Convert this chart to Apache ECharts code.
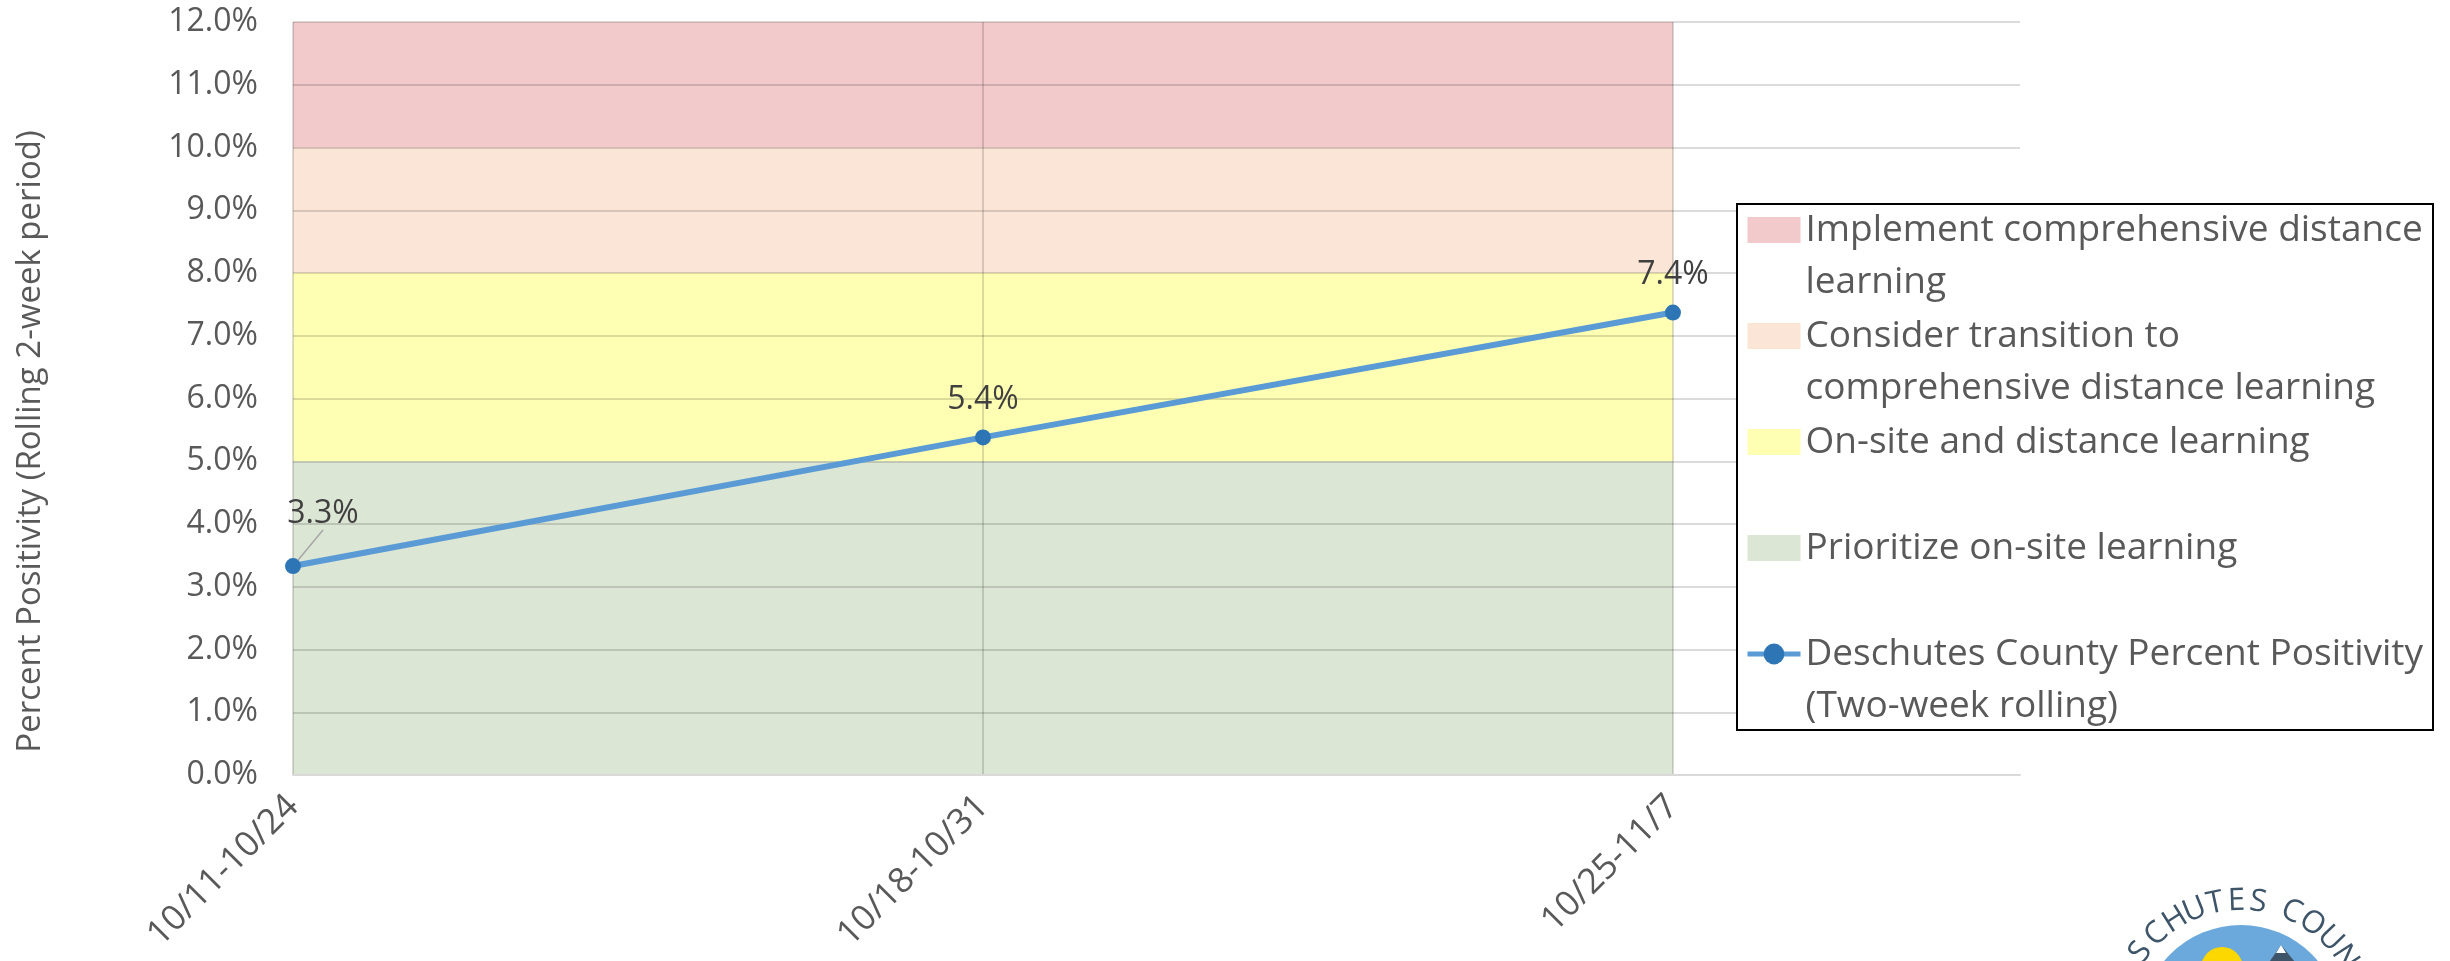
<!DOCTYPE html>
<html>
<head>
<meta charset="utf-8">
<script src="https://cdn.jsdelivr.net/npm/echarts@6/dist/echarts.min.js"></script>
<style>
html, body { margin: 0; padding: 0; background: #fff; }
#main { width: 2450px; height: 961px; }
</style>
</head>
<body>
<div id="main"></div>
<script>
// data
const weeks = ["10/11-10/24", "10/18-10/31", "10/25-11/7"];
const positivity = [3.33, 5.38, 7.37];
const positivityLabels = ["3.3%", "5.4%", "7.4%"];

// school metric zones, upper bound of each zone (percent)
const zoneNames = [
    "Implement comprehensive distance learning",
    "Consider transition to comprehensive distance learning",
    "On-site and distance learning",
    "Prioritize on-site learning"
];
const zoneTops = [12, 10, 8, 5];
const zoneColors = ["#F2CACB", "#FBE5D6", "#FFFFB3", "#DCE6D5"];

const lineName = "Deschutes County Percent Positivity (Two-week rolling)";

// legend text; blank first line keeps the swatch beside the first text line
const legendText = {
    "Implement comprehensive distance learning": " \nImplement comprehensive distance\nlearning",
    "Consider transition to comprehensive distance learning": " \nConsider transition to\ncomprehensive distance learning",
    "On-site and distance learning": " \nOn-site and distance learning\n ",
    "Prioritize on-site learning": " \nPrioritize on-site learning\n ",
    "Deschutes County Percent Positivity (Two-week rolling)": " \nDeschutes County Percent Positivity\n(Two-week rolling)"
};

const FONT = "'Open Sans', sans-serif";
const GREY = "#595959";
const GRID_LINE = "rgba(0,0,0,0.14)";

// each zone is filled from 0 up to its top; lower zones are painted later, on top
const zoneSeries = zoneNames.map(function (name, k) {
    return {
        name: name,
        type: "line",
        color: zoneColors[k],
        symbol: "none",
        silent: true,
        z: 1,
        lineStyle: { width: 0 },
        areaStyle: { color: zoneColors[k], opacity: 1 },
        data: weeks.map(function (w, i) { return [i, zoneTops[k]]; })
    };
});

const lineData = positivity.map(function (v, i) {
    const item = { value: [i, v] };
    if (i === 0) {
        item.labelLine = { show: true, lineStyle: { color: "#a6a6a6", width: 1.5 } };
    }
    return item;
});

const legendData = zoneNames.map(function (name, k) {
    return { name: name, icon: "rect", itemStyle: { color: zoneColors[k], borderWidth: 0 } };
});
legendData.push({
    name: lineName,
    itemStyle: { color: "#2E75B6" },
    lineStyle: { color: "#5B9BD5", width: 5 }
});

// logo in the bottom right corner
const logoText = "DESCHUTES COUNTY";
const logoAngles = [-76, -65, -54, -43, -32, -22, -12, -2, 8, 0, 24, 35, 46, 57, 68, 79];
const logoCx = 2241, logoCy = 1025, logoR = 124;
const logoElements = [
    { type: "circle", shape: { cx: logoCx, cy: logoCy, r: 100 }, style: { fill: "#6BA9DC" }, z: 1 },
    { type: "circle", shape: { cx: 2222, cy: 968, r: 21 }, style: { fill: "#FCD800" }, z: 2 },
    { type: "polygon", shape: { points: [[2250, 990], [2281, 945], [2318, 990]] }, style: { fill: "#3E5468" }, z: 2 },
    { type: "polygon", shape: { points: [[2276, 953], [2281, 945], [2286, 953]] }, style: { fill: "#ffffff" }, z: 3 }
];
for (let i = 0; i < logoText.length; i++) {
    if (logoText[i] === " ") continue;
    const a = logoAngles[i] * Math.PI / 180;
    logoElements.push({
        type: "text",
        x: logoCx + logoR * Math.sin(a),
        y: logoCy - logoR * Math.cos(a),
        rotation: -a,
        z: 2,
        style: {
            text: logoText[i], x: 0, y: 0, align: "center", verticalAlign: "middle",
            fill: "#3E5468", font: "31px " + FONT
        }
    });
}

var myChart = echarts.init(document.getElementById("main"));
var option = {
    animation: false,
    backgroundColor: "#fff",
    grid: { left: 293, right: 430, top: 22, bottom: 186 },
    xAxis: {
        type: "value",
        min: 0,
        max: 2.503,
        interval: 1,
        z: 3,
        axisLine: { show: true, onZero: false, lineStyle: { color: "#d9d9d9", width: 2 } },
        axisTick: { show: false },
        splitLine: { show: true, showMaxLine: false, lineStyle: { color: GRID_LINE, width: 2 } },
        axisLabel: {
            rotate: 45,
            margin: 26,
            fontFamily: FONT,
            fontSize: 35,
            color: GREY,
            showMaxLabel: false,
            formatter: function (v) { return Number.isInteger(v) && weeks[v] ? weeks[v] : ""; }
        }
    },
    yAxis: {
        type: "value",
        min: 0,
        max: 12,
        interval: 1,
        z: 3,
        name: "Percent Positivity (Rolling 2-week period)",
        nameLocation: "middle",
        nameGap: 246,
        nameTextStyle: { fontFamily: FONT, fontSize: 33, color: GREY, padding: [0, 86, 0, 0] },
        axisLine: { show: false },
        axisTick: { show: false },
        splitLine: { show: true, lineStyle: { color: GRID_LINE, width: 2 } },
        axisLabel: {
            margin: 35,
            fontFamily: FONT,
            fontSize: 32,
            color: GREY,
            formatter: function (v) { return v.toFixed(1) + "%"; }
        }
    },
    legend: {
        orient: "vertical",
        left: 1745,
        top: 152,
        padding: 0,
        itemGap: -50,
        itemWidth: 53,
        itemHeight: 26,
        z: 20,
        selectedMode: false,
        textStyle: { fontFamily: FONT, fontSize: 37, color: GREY, lineHeight: 52 },
        formatter: function (name) { return legendText[name]; },
        data: legendData
    },
    graphic: {
        elements: [
            {
                type: "rect",
                shape: { x: 1737, y: 204, width: 696, height: 526 },
                style: { fill: "#fff", stroke: "#000", lineWidth: 2 },
                z: 15
            }
        ].concat(logoElements)
    },
    series: zoneSeries.concat([
        {
            name: lineName,
            type: "line",
            z: 5,
            color: "#2E75B6",
            symbol: "circle",
            symbolSize: 16,
            itemStyle: { color: "#2E75B6" },
            lineStyle: { color: "#5B9BD5", width: 6 },
            label: {
                show: true,
                position: "top",
                distance: 14,
                fontFamily: FONT,
                fontSize: 32,
                color: "#404040",
                formatter: function (p) { return positivityLabels[p.dataIndex]; }
            },
            labelLayout: function (p) {
                if (p.dataIndex === 0) return { dx: 30, dy: -14 };
                return {};
            },
            data: lineData
        }
    ])
};
myChart.setOption(option);
</script>
</body>
</html>
